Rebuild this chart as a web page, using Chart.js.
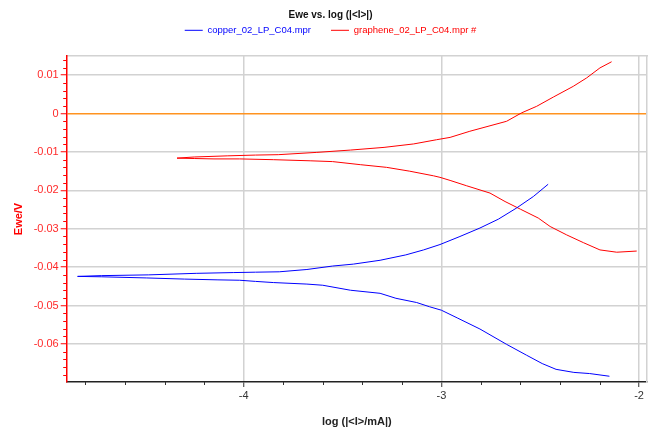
<!DOCTYPE html>
<html>
<head>
<meta charset="utf-8">
<script src="https://cdn.jsdelivr.net/npm/chart.js@4/dist/chart.umd.min.js"></script>
<style>
  html, body { margin: 0; padding: 0; background: #ffffff; }
  canvas { display: block; }
</style>
</head>
<body>
<canvas id="c" width="655" height="427"></canvas>
<script>
// ---- data (log|I| in mA, Ewe in V) ----
const copperLogI = [-2.15, -2.25, -2.33, -2.42, -2.49, -2.57, -2.67, -2.805, -2.92, -3.00, -3.06, -3.125, -3.23, -3.31, -3.46, -3.60, -3.68, -3.85, -3.94, -4.02, -4.13, -4.30, -4.49, -4.72, -4.84,
  -4.72, -4.48, -4.24, -4.05, -3.94, -3.82, -3.68, -3.55, -3.445, -3.31, -3.18, -3.09, -3.007, -2.906, -2.805, -2.712, -2.62, -2.535, -2.46];
const copperEwe = [-0.0684, -0.0677, -0.0674, -0.0666, -0.0651, -0.0629, -0.0601, -0.0561, -0.0532, -0.0512, -0.0503, -0.0492, -0.0481, -0.0468, -0.0460, -0.0447, -0.0444, -0.0440, -0.0437, -0.0434, -0.0433, -0.0431, -0.0428, -0.0425, -0.0424,
  -0.0422, -0.0420, -0.0416, -0.0414, -0.0413, -0.0412, -0.0406, -0.0397, -0.0392, -0.0382, -0.0368, -0.0355, -0.0341, -0.0320, -0.0298, -0.0275, -0.0246, -0.0216, -0.0184];

const grapheneLogI = [-2.012, -2.113, -2.198, -2.282, -2.366, -2.45, -2.51, -2.60, -2.678, -2.754, -2.872, -2.956, -3.007, -3.04, -3.16, -3.277, -3.41, -3.55, -3.66, -3.85, -4.02, -4.15, -4.25, -4.337,
  -4.25, -4.08, -3.94, -3.825, -3.63, -3.46, -3.29, -3.14, -3.024, -2.956, -2.856, -2.67, -2.594, -2.518, -2.434, -2.333, -2.265, -2.198, -2.139];
const grapheneEwe = [-0.0358, -0.0361, -0.0355, -0.0336, -0.0316, -0.0294, -0.0272, -0.0249, -0.0229, -0.0207, -0.0188, -0.0174, -0.0166, -0.0162, -0.0150, -0.0140, -0.0133, -0.0125, -0.0123, -0.0120, -0.0118, -0.0118, -0.0117, -0.0116,
  -0.0113, -0.0110, -0.0108, -0.0107, -0.0101, -0.0095, -0.0088, -0.0079, -0.0068, -0.0062, -0.0046, -0.0020, 0.0002, 0.0019, 0.0043, 0.0071, 0.0093, 0.0119, 0.0135];

const seriesNames = ['copper_02_LP_C04.mpr', 'graphene_02_LP_C04.mpr #'];
const chartTitle = 'Ewe vs. log (|<I>|)';
const xTitle = 'log (|<I>/mA|)';
const yTitle = 'Ewe/V';

// tick positions: minor every 0.2 (x) and 0.002 (y); labels only on majors
const xTickValues = [];
for (let k = -24; k <= -10; k++) xTickValues.push(k / 5);
const yTickValues = [];
for (let k = -34; k <= 7; k++) yTickValues.push(k / 500);

const isMajorX = v => Math.abs(v - Math.round(v)) < 1e-6;
const isMajorY = v => Math.abs(v * 100 - Math.round(v * 100)) < 1e-6;

const FONT = "'Liberation Sans', Arial, sans-serif";
const BLUE = '#0000ff';
const RED = '#ff0000';
const GRID = '#d2d2d2';

const pts = (xs, ys) => xs.map((x, i) => ({ x: x, y: ys[i] }));

const minorTicks = {
  id: 'minorTicks',
  afterDraw(chart) {
    const ctx = chart.ctx;
    const xs = chart.scales.x, ys = chart.scales.y;
    ctx.save();
    ctx.lineWidth = 1;
    ctx.strokeStyle = '#333333';
    xs.ticks.forEach(t => {
      if (isMajorX(t.value)) return;
      const px = Math.round(xs.getPixelForValue(t.value)) + 0.5;
      ctx.beginPath();
      ctx.moveTo(px, xs.top);
      ctx.lineTo(px, xs.top + 3);
      ctx.stroke();
    });
    ctx.strokeStyle = RED;
    ys.ticks.forEach(t => {
      if (isMajorY(t.value)) return;
      const py = Math.round(ys.getPixelForValue(t.value)) + 0.5;
      ctx.beginPath();
      ctx.moveTo(ys.right, py);
      ctx.lineTo(ys.right - 3.5, py);
      ctx.stroke();
    });
    ctx.restore();
  }
};

new Chart(document.getElementById('c'), {
  type: 'scatter',
  data: {
    datasets: [
      { label: seriesNames[0], data: pts(copperLogI, copperEwe), showLine: true, borderColor: BLUE, backgroundColor: BLUE, borderWidth: 1, pointRadius: 0, tension: 0 },
      { label: seriesNames[1], data: pts(grapheneLogI, grapheneEwe), showLine: true, borderColor: RED, backgroundColor: RED, borderWidth: 1, pointRadius: 0, tension: 0 }
    ]
  },
  options: {
    responsive: false,
    animation: false,
    devicePixelRatio: 1,
    layout: { padding: { left: 6, right: 0, top: 0, bottom: 0 } },
    plugins: {
      title: {
        display: true,
        text: chartTitle,
        color: '#111111',
        font: { family: FONT, size: 10, weight: 'bold', lineHeight: 1.2 },
        padding: { top: 9, bottom: -15.45 }
      },
      legend: {
        display: true,
        labels: {
          usePointStyle: true,
          pointStyle: 'line',
          pointStyleWidth: 18,
          padding: 20,
          font: { family: FONT, size: 9.5 },
          generateLabels(chart) {
            const items = Chart.defaults.plugins.legend.labels.generateLabels(chart);
            items.forEach(it => { it.fontColor = it.strokeStyle; it.lineWidth = 1; });
            return items;
          }
        }
      },
      tooltip: { enabled: false }
    },
    scales: {
      x: {
        type: 'linear',
        position: 'bottom',
        min: -4.895,
        max: -1.96,
        afterBuildTicks(scale) { scale.ticks = xTickValues.map(v => ({ value: v })); },
        afterFit(scale) { scale.height = 45; },
        ticks: {
          autoSkip: false,
          maxRotation: 0,
          padding: 2,
          color: '#333333',
          font: { family: FONT, size: 11 },
          callback: v => isMajorX(v) ? String(Math.round(v)) : ''
        },
        grid: {
          display: true,
          drawOnChartArea: true,
          lineWidth: 1.5,
          tickLength: 5,
          color: c => (c.tick && isMajorX(c.tick.value)) ? GRID : 'rgba(0,0,0,0)',
          tickColor: c => (c.tick && isMajorX(c.tick.value)) ? '#333333' : 'rgba(0,0,0,0)',
          tickWidth: 1
        },
        border: { display: true, color: '#222222', width: 1.5 },
        title: {
          display: true,
          text: xTitle,
          color: '#222222',
          font: { family: FONT, size: 11, weight: 'bold', lineHeight: 1 },
          padding: { top: 0, bottom: 0 }
        }
      },
      xTop: {
        type: 'linear',
        axis: 'x',
        position: 'top',
        min: 0, max: 1,
        afterFit(scale) { scale.height = 10.95; },
        ticks: { display: false },
        grid: { display: false },
        border: { display: true, color: GRID, width: 1.5 }
      },
      y: {
        type: 'linear',
        position: 'left',
        min: -0.0699,
        max: 0.015,
        afterBuildTicks(scale) { scale.ticks = yTickValues.map(v => ({ value: v })); },
        afterFit(scale) { scale.width = 60.7; },
        ticks: {
          autoSkip: false,
          padding: 2,
          color: '#ff2a2a',
          font: { family: FONT, size: 11 },
          callback: v => {
            if (!isMajorY(v)) return '';
            const r = Math.round(v * 100) / 100;
            return r === 0 ? '0' : r.toFixed(2);
          }
        },
        grid: {
          display: true,
          drawOnChartArea: true,
          lineWidth: 1.5,
          tickLength: 6,
          color: c => {
            if (!c.tick || !isMajorY(c.tick.value)) return 'rgba(0,0,0,0)';
            return Math.abs(c.tick.value) < 1e-9 ? '#ff9320' : GRID;
          },
          tickColor: c => (c.tick && isMajorY(c.tick.value)) ? RED : 'rgba(0,0,0,0)',
          tickWidth: 1
        },
        border: { display: true, color: RED, width: 1.5 },
        title: {
          display: true,
          text: yTitle,
          color: RED,
          font: { family: FONT, size: 11, weight: 'bold', lineHeight: 1 },
          padding: { top: 7, bottom: 0 }
        }
      },
      yRight: {
        type: 'linear',
        axis: 'y',
        position: 'right',
        min: 0, max: 1,
        afterFit(scale) { scale.width = 8; },
        ticks: { display: false },
        grid: { display: false },
        border: { display: true, color: GRID, width: 1.5 }
      }
    }
  },
  plugins: [minorTicks]
});
</script>
</body>
</html>
